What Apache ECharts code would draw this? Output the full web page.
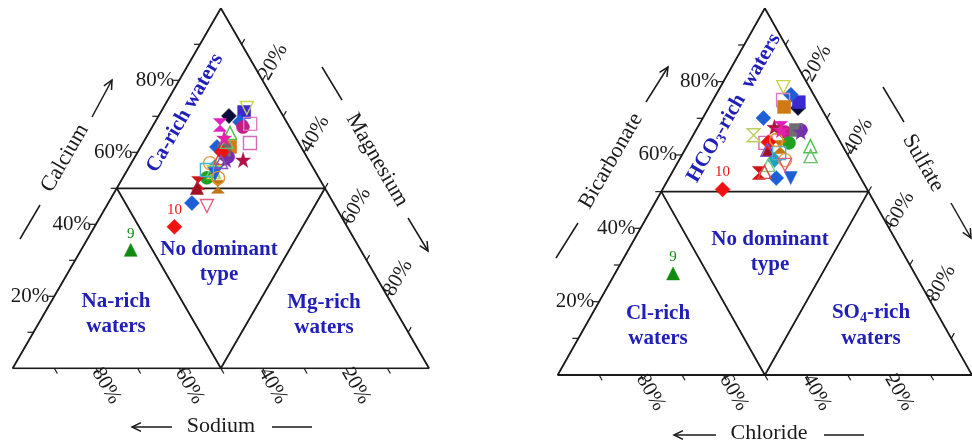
<!DOCTYPE html>
<html><head><meta charset="utf-8">
<script src="https://cdn.jsdelivr.net/npm/echarts@6/dist/echarts.min.js"></script>
<style>html,body{margin:0;padding:0;background:#fff}#c{width:972px;height:446px}</style>
</head><body><div id="c"></div>
<script>
// ---------- data ----------
const tickValues = [10, 20, 30, 40, 50, 60, 70, 80, 90];
const tickLabels = [20, 40, 60, 80];

const sampleSymbols = ['diamond','square','triDown','diamond','circle','square','square','hourglass','triangle','diamond',
  'square','circle','star','circle','diamond','hourglass','hourglass','triangle','diamond','circle',
  'triangle','triangle','square','star','hourglass','diamond','triDown','triangle','triangle','square',
  'circle','star','triDown','diamond','triangle'];
const sampleColors = ['#0b0b3a','#3b2ad0','#c8d44a','#1e5ed6','#c21f86','#e07cc0','#d36cb4','#e01fc4','#4cc24c','#1e5ed6',
  '#cf7a12','#7d22c4','#b01245','#1fa01f','#1e5ed6','#d01414','#c27412','#a01020','#1ea2c4','#e6a040',
  '#72d072','#e04848','#6e6e6e','#7234a6','#bcd060','#f01212','#1e5ed6','#6cc06c','#8452c4','#44b2d4',
  '#e09434','#e022a4','#e06080','#f01212','#108a10'];
const sampleFilled = [1,1,0,1,1,0,0,1,0,1, 1,1,1,1,1,1,1,1,1,0, 0,0,1,1,0,1,1,0,0,0, 0,1,0,1,1];
const sampleLabels = ['','','','','','','','','','', '','','','','','','','','','', '','','','','','','','','','', '','','','10','9'];

// cations (%)
const calcium   = [70.1,71.2,72.3,68.4,67.0,67.9,62.6,67.6,65.4,61.5,61.5,58.7,57.9,52.9,45.9,51.5,50.4,50.1,55.9,57.0,55.1,58.4,60.6,57.9,54.5,60.1,54.0,62.9,57.3,55.1,52.9,64.0,45.1,39.3,32.9];
const magnesium = [16.9,20.0,20.1,20.4,21.8,23.1,25.7,16.0,19.5,18.3,21.5,22.4,26.4,20.2,20.1,18.8,24.1,19.2,20.6,18.9,20.6,20.6,20.5,22.3,21.1,20.2,21.6,20.0,21.4,19.1,22.9,18.8,24.1,19.2,11.9];
const sodium    = [13.0,8.8,7.6,11.2,11.2,9.0,11.7,16.4,15.1,20.2,17.0,18.9,15.7,26.9,34.0,29.7,25.5,30.7,23.5,24.1,24.3,21.0,18.9,19.8,24.4,19.7,24.4,17.1,21.3,25.8,24.2,17.2,30.8,41.5,55.2];
// anions (%)
const bicarbonate = [72.8,74.4,78.5,76.4,66.3,75.0,63.3,67.4,62.4,70.1,73.1,66.8,67.6,63.3,53.7,55.1,62.2,61.4,58.6,58.6,57.3,55.4,66.8,66.3,65.4,63.5,53.7,59.7,61.4,60.5,64.1,66.8,57.3,50.6,27.7];
const sulfate     = [21.6,21.0,15.2,18.1,21.7,16.9,18.5,20.2,29.8,14.6,18.1,25.3,18.5,24.2,25.9,21.0,22.6,20.2,23.0,25.6,22.2,22.2,24.1,25.5,14.6,19.1,29.4,31.2,19.9,23.2,20.7,20.5,26.2,14.5,14.0];
const chloride    = [5.6,4.6,6.3,5.5,12.0,8.1,18.2,12.4,7.8,15.3,8.8,7.9,13.9,12.5,20.4,23.9,15.2,18.4,18.4,15.8,20.5,22.4,9.1,8.2,20.0,17.4,16.9,9.1,18.7,16.3,15.2,12.7,16.5,34.9,58.3];

// ---------- helpers ----------
const FONT = '"Liberation Serif","Times New Roman",serif';
const BLUE = '#2020b8';
const INK = '#1a1a1a';
const LABEL_SIZE = 21, TITLE_SIZE = 22, REGION_SIZE = 21;
// ternary (top, right, left) -> cartesian data units (x 0..100, y 0..100 = apex)
function tern(top, right, left) {
  const s = top + right + left;
  const t = top / s * 100, r = right / s * 100;
  return [r + t / 2, t];
}
const SYM = {
  diamond: 'diamond', square: 'rect', circle: 'circle', triangle: 'triangle',
  triDown: 'path://M0,0L10,0L5,8.66Z',
  hourglass: 'path://M0,0L10,0L5,5L10,10L0,10L5,5Z',
  star: 'path://M5,0L6.18,3.6L10,3.6L6.9,5.9L8.1,9.5L5,7.3L1.9,9.5L3.1,5.9L0,3.6L3.82,3.6Z'
};
const SIZE = {diamond: 15, square: 13, circle: 13, triangle: 13, triDown: 13, hourglass: 13, star: 15};

function txtStyle(text, size, weight, fill, align) {
  return {
    text: text, fill: fill, font: weight + ' ' + size + 'px ' + FONT,
    fontSize: size, fontFamily: FONT, fontWeight: weight,
    align: align, textAlign: align, verticalAlign: 'middle', textVerticalAlign: 'middle'
  };
}
function textEl(text, x, y, rot, align, size, weight, fill) {
  return {type: 'text', x: x, y: y, rotation: rot || 0, silent: true,
    style: txtStyle(text, size || LABEL_SIZE, weight || 'normal', fill || INK, align || 'center')};
}

function outline(gi, pts) {
  return {type: 'line', xAxisIndex: gi, yAxisIndex: gi, silent: true, symbol: 'none', z: 2,
    lineStyle: {color: INK, width: 1.8}, animation: false,
    data: pts.map(p => tern(p[0], p[1], p[2]))};
}
const outerTri = [[100,0,0],[0,100,0],[0,0,100],[100,0,0]];
const innerTri = [[50,50,0],[0,50,50],[50,0,50],[50,50,0]];

function axisSeries(gi) {
  return {
    type: 'custom', xAxisIndex: gi, yAxisIndex: gi, silent: true, clip: false, z: 3,
    data: tickValues.map(v => [v, 0]),
    renderItem: function (params, api) {
      const v = api.value(0);
      const L = api.coord(tern(v, 0, 100 - v));
      const B = api.coord(tern(0, 100 - v, v));
      const R = api.coord(tern(100 - v, v, 0));
      const k = 6, c = 0.5, s = 0.866;
      const st = {stroke: INK, lineWidth: 1.2};
      const ch = [
        {type: 'line', shape: {x1: L[0], y1: L[1], x2: L[0] - k, y2: L[1]}, style: st},
        {type: 'line', shape: {x1: B[0], y1: B[1], x2: B[0] + k * c, y2: B[1] + k * s}, style: st},
        {type: 'line', shape: {x1: R[0], y1: R[1], x2: R[0] + k * c, y2: R[1] - k * s}, style: st}
      ];
      if (tickLabels.indexOf(v) >= 0) {
        const t = v + '%';
        ch.push(textEl(t, L[0] - 5, L[1], 0, 'right'));
        ch.push(textEl(t, B[0] + 1 * c, B[1] + 1 * s, -Math.PI / 3, 'left'));
        ch.push(textEl(t, R[0] + 2 * c, R[1] - 2 * s, Math.PI / 3, 'left'));
      }
      return {type: 'group', children: ch};
    }
  };
}

function pointSeries(gi, A, B, C) {
  const data = A.map((a, i) => {
    const sym = sampleSymbols[i];
    const col = sampleColors[i];
    const filled = sampleFilled[i] === 1;
    return {
      value: tern(a, B[i], C[i]),
      symbol: SYM[sym], symbolSize: SIZE[sym],
      itemStyle: filled ? {color: col, borderColor: col, borderWidth: 0.5, opacity: 1}
                        : {color: 'rgba(255,255,255,0)', borderColor: col, borderWidth: 1.4, opacity: 1},
      label: sampleLabels[i] ? {show: true, formatter: sampleLabels[i], position: 'top', distance: 2,
        color: col, fontSize: 15, fontFamily: FONT} : {show: false}
    };
  });
  return {type: 'scatter', xAxisIndex: gi, yAxisIndex: gi, silent: true, z: 5, data: data, animation: false,
    itemStyle: {opacity: 1}};
}

// ---------- decorations (titles, arrows, region names) ----------
function seg(x1, y1, x2, y2) {
  return {type: 'line', silent: true, shape: {x1, y1, x2, y2}, style: {stroke: INK, lineWidth: 1.5}};
}
function arrow(x1, y1, x2, y2) {
  const dx = x2 - x1, dy = y2 - y1, L = Math.hypot(dx, dy);
  const ux = dx / L, uy = dy / L, h = 10, a = 0.45;
  const cs = Math.cos(a), sn = Math.sin(a);
  const p1 = [x2 - h * (ux * cs - uy * sn), y2 - h * (uy * cs + ux * sn)];
  const p2 = [x2 - h * (ux * cs + uy * sn), y2 - h * (uy * cs - ux * sn)];
  return [seg(x1, y1, x2, y2),
    {type: 'polyline', silent: true, shape: {points: [p1, [x2, y2], p2]}, style: {stroke: INK, lineWidth: 1.5, fill: null}}];
}
const R60 = Math.PI / 3;
function titleText(text, x, y, rot) { return textEl(text, x, y, rot, 'center', TITLE_SIZE); }
function regionText(text, x, y, rot) {
  const el = textEl(text, x, y, rot || 0, 'center', REGION_SIZE, 'bold', BLUE);
  el.style.lineHeight = 25;
  return el;
}
function richRegion(main1, sub, main2, x, y, rot) {
  return {type: 'text', x, y, rotation: rot || 0, silent: true,
    style: {
      text: '{a|' + main1 + '}{s|' + sub + '}{a|' + main2 + '}',
      align: 'center', textAlign: 'center', verticalAlign: 'middle', textVerticalAlign: 'middle',
      rich: {
        a: {fontSize: REGION_SIZE, fontWeight: 'bold', fontFamily: FONT, fill: BLUE, color: BLUE, lineHeight: 24},
        s: {fontSize: 14, fontWeight: 'bold', fontFamily: FONT, fill: BLUE, color: BLUE, lineHeight: 24, verticalAlign: 'bottom', padding: [9, 0, 0, 0]}
      }
    }};
}

const graphics = [].concat(
  // left plot titles
  [seg(20, 239, 40, 205), titleText('Calcium', 65, 158, R60)], arrow(92, 117, 112, 80),
  [seg(322, 67, 342, 100), titleText('Magnesium', 377, 160, -R60)], arrow(408, 218, 428, 251),
  arrow(172, 427, 132, 427), [titleText('Sodium', 221, 426, 0), seg(272, 427, 312, 427)],
  // right plot titles
  [seg(556, 258, 578, 223), titleText('Bicarbonate', 611, 161, R60)], arrow(646, 102, 668, 67),
  [seg(883, 87, 904, 122), titleText('Sulfate', 923, 163, -R60)], arrow(951, 203, 971, 238),
  arrow(716, 435, 674, 435), [titleText('Chloride', 769, 433, 0), seg(824, 435, 864, 435)],
  // region names, left
  [regionText('Ca-rich waters', 185, 113, R60),
   regionText('No dominant\ntype', 219, 262),
   regionText('Na-rich\nwaters', 116, 314),
   regionText('Mg-rich\nwaters', 324, 315),
  // region names, right
   richRegion('HCO', '3', '-rich  waters', 734, 108, R60),
   regionText('No dominant\ntype', 770, 252),
   regionText('Cl-rich\nwaters', 658, 326),
   richRegion('SO', '4', '-rich', 871, 313, 0),
   regionText('waters', 871, 339)]
);

// ---------- chart ----------
const chart = echarts.init(document.getElementById('c'), null, {renderer: 'canvas', width: 972, height: 446});
const axisX = gi => ({type: 'value', gridIndex: gi, min: 0, max: 100, show: false});
const axisY = gi => ({type: 'value', gridIndex: gi, min: 0, max: 100, show: false});
chart.setOption({
  backgroundColor: '#ffffff',
  animation: false,
  grid: [
    {left: 12.7, top: 8.3, width: 416.3, height: 360},
    {left: 557.7, top: 8.3, width: 423.3, height: 366.7}
  ],
  xAxis: [axisX(0), axisX(1)],
  yAxis: [axisY(0), axisY(1)],
  series: [
    outline(0, outerTri), outline(0, innerTri), axisSeries(0), pointSeries(0, calcium, magnesium, sodium),
    outline(1, outerTri), outline(1, innerTri), axisSeries(1), pointSeries(1, bicarbonate, sulfate, chloride)
  ],
  graphic: graphics
});
</script>
</body></html>
